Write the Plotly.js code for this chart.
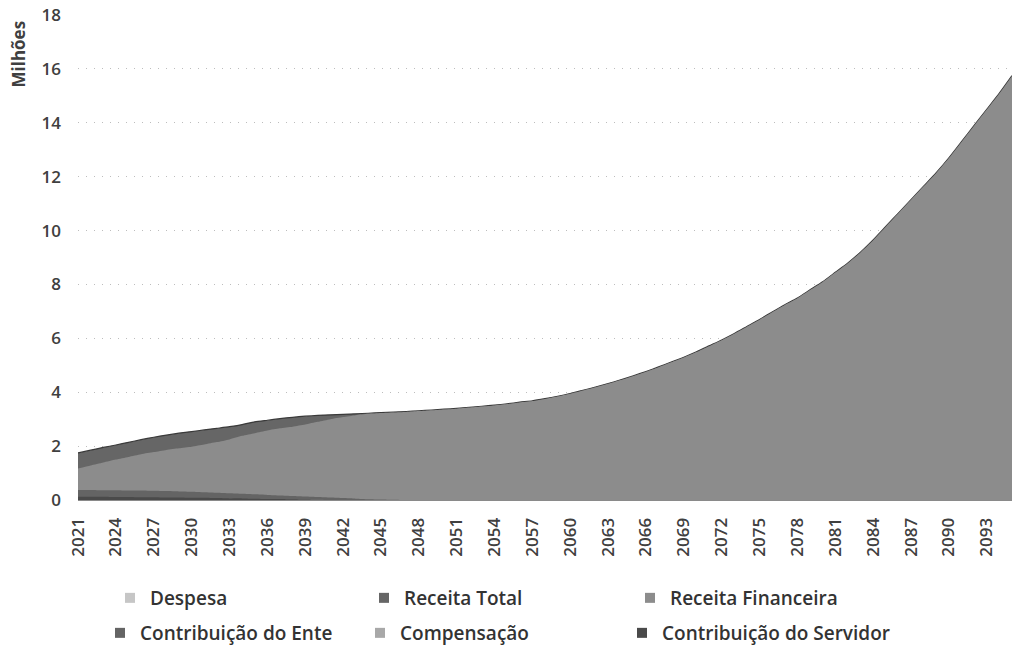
<!DOCTYPE html>
<html>
<head>
<meta charset="utf-8">
<script src="https://cdn.plot.ly/plotly-3.0.1.min.js"></script>
<style>html,body{margin:0;padding:0;background:#fff;}#chart{width:1012px;height:650px;}</style>
</head>
<body>
<div id="chart"></div>
<script>
// Years (categories)
var years = [];
for (var yr = 2021; yr <= 2095; yr++) years.push(yr);

// Series values (millions)
var receitaTotal = [
  1.75, 1.85, 1.95, 2.04, 2.14, 2.24, 2.33, 2.41, 2.48, 2.54,
  2.60, 2.66, 2.72, 2.80, 2.90, 2.96, 3.02, 3.07, 3.11, 3.14,
  3.16, 3.18, 3.20, 3.22, 3.24, 3.26, 3.28, 3.31, 3.34, 3.37,
  3.40, 3.44, 3.48, 3.52, 3.57, 3.63, 3.68, 3.76, 3.85, 3.95,
  4.07, 4.19, 4.32, 4.46, 4.61, 4.77, 4.94, 5.12, 5.30, 5.50,
  5.72, 5.94, 6.18, 6.44, 6.70, 6.98, 7.25, 7.50, 7.80, 8.10,
  8.45, 8.80, 9.20, 9.65, 10.15, 10.65, 11.15, 11.65, 12.15, 12.70,
  13.30, 13.90, 14.50, 15.10, 15.75
];
var receitaFinanceira = [
  1.17, 1.28, 1.39, 1.50, 1.60, 1.70, 1.78, 1.86, 1.92, 1.98,
  2.06, 2.15, 2.25, 2.38, 2.48, 2.58, 2.66, 2.72, 2.80, 2.90,
  3.00, 3.08, 3.15, 3.20, 3.23, 3.25, 3.27, 3.30, 3.33, 3.36,
  3.39, 3.43, 3.47, 3.51, 3.56, 3.62, 3.67, 3.75, 3.84, 3.94,
  4.06, 4.18, 4.31, 4.45, 4.60, 4.76, 4.93, 5.11, 5.29, 5.49,
  5.71, 5.93, 6.17, 6.43, 6.69, 6.97, 7.24, 7.49, 7.79, 8.09,
  8.44, 8.79, 9.19, 9.64, 10.14, 10.64, 11.14, 11.64, 12.14, 12.69,
  13.29, 13.89, 14.49, 15.09, 15.74
];
var contribEnte = [
  0.37, 0.37, 0.36, 0.36, 0.35, 0.35, 0.34, 0.33, 0.32, 0.31,
  0.29, 0.27, 0.25, 0.23, 0.21, 0.19, 0.17, 0.15, 0.13, 0.11,
  0.09, 0.07, 0.05, 0.03, 0.02, 0.01, 0, 0, 0, 0,
  0, 0, 0, 0, 0, 0, 0, 0, 0, 0,
  0, 0, 0, 0, 0, 0, 0, 0, 0, 0,
  0, 0, 0, 0, 0, 0, 0, 0, 0, 0,
  0, 0, 0, 0, 0, 0, 0, 0, 0, 0,
  0, 0, 0, 0, 0
];
var compensacao = [
  0.05, 0.05, 0.05, 0.05, 0.04, 0.04, 0.04, 0.04, 0.03, 0.03,
  0.03, 0.03, 0.02, 0.02, 0.02, 0.02, 0.01, 0.01, 0.01, 0.01,
  0, 0, 0, 0, 0, 0, 0, 0, 0, 0,
  0, 0, 0, 0, 0, 0, 0, 0, 0, 0,
  0, 0, 0, 0, 0, 0, 0, 0, 0, 0,
  0, 0, 0, 0, 0, 0, 0, 0, 0, 0,
  0, 0, 0, 0, 0, 0, 0, 0, 0, 0,
  0, 0, 0, 0, 0
];
var contribServidor = [
  0.12, 0.12, 0.12, 0.11, 0.11, 0.10, 0.10, 0.09, 0.09, 0.08,
  0.08, 0.07, 0.06, 0.06, 0.05, 0.04, 0.04, 0.03, 0.02, 0.01,
  0, 0, 0, 0, 0, 0, 0, 0, 0, 0,
  0, 0, 0, 0, 0, 0, 0, 0, 0, 0,
  0, 0, 0, 0, 0, 0, 0, 0, 0, 0,
  0, 0, 0, 0, 0, 0, 0, 0, 0, 0,
  0, 0, 0, 0, 0, 0, 0, 0, 0, 0,
  0, 0, 0, 0, 0
];

var seriesNames = ["Despesa", "Receita Total", "Receita Financeira",
                   "Contribuição do Ente", "Compensação", "Contribuição do Servidor"];
var seriesColors = ["#c6c6c6", "#666666", "#8c8c8c", "#646464", "#a8a8a8", "#4a4a4a"];

var tickYears = [];
for (var t = 2021; t <= 2093; t += 3) tickYears.push(t);

var FONT = "Open Sans, Noto Sans, sans-serif";

function area(y, idx, lineColor, lineWidth) {
  return {
    x: years, y: y, type: "scatter", mode: lineWidth > 0 ? "lines" : "none",
    fill: "tozeroy", fillcolor: seriesColors[idx],
    line: {color: lineColor, width: lineWidth, shape: "spline", smoothing: 0.6},
    name: seriesNames[idx], showlegend: false, hoverinfo: "x+y+name"
  };
}
var legendIds = ["legend", "legend2", "legend3", "legend4", "legend5", "legend6"];
function legendItem(idx) {
  return {
    x: [null], y: [null], type: "scatter", mode: "markers",
    marker: {symbol: "square", size: 10, color: seriesColors[idx]},
    name: seriesNames[idx], showlegend: true, legend: legendIds[idx]
  };
}

var traces = [
  area(receitaTotal, 1, "#3a3a3a", 1.2),
  area(receitaFinanceira, 2, "#8c8c8c", 0),
  area(contribEnte, 3, "#646464", 0),
  area(compensacao, 4, "#a8a8a8", 0),
  area(contribServidor, 5, "#4a4a4a", 0)
];
for (var i = 0; i < 6; i++) traces.push(legendItem(i));

var legendFont = {family: FONT, size: 19, color: "#333333", weight: 600};
// legend positions in pixels (text start x, row centre y)
var legendTextX = [150, 404, 670, 140, 400, 662];
var legendRowY = [598, 598, 598, 633, 633, 633];

var layout = {
  width: 1012, height: 650,
  margin: {l: 78, r: 0, t: 15, b: 150},
  paper_bgcolor: "#ffffff", plot_bgcolor: "#ffffff",
  font: {family: FONT, color: "#404040"},
  xaxis: {
    type: "linear", range: [2021, 2095],
    tickmode: "array", tickvals: tickYears, ticktext: tickYears.map(String),
    tickangle: -90, showgrid: false, zeroline: false,
    showline: true, linecolor: "#8a8a8a", linewidth: 1,
    ticks: "", ticklabelstandoff: 10,
    tickfont: {family: FONT, size: 17, color: "#404040", weight: 600}
  },
  yaxis: {
    range: [0, 18], tickmode: "array", tickvals: [0, 2, 4, 6, 8, 10, 12, 14, 16, 18],
    showgrid: true, gridcolor: "#bdbdbd", griddash: "1px,7px", gridwidth: 1,
    zeroline: false, showline: false, ticks: "", ticklabelstandoff: 16,
    tickfont: {family: FONT, size: 17, color: "#404040", weight: 600}
  },
  annotations: [{
    text: "Milhões", textangle: -90, xref: "paper", yref: "paper",
    x: 0, xshift: -60, y: 1, yanchor: "top", xanchor: "center", yshift: -4,
    showarrow: false, font: {family: FONT, size: 17, color: "#404040", weight: 700}
  }],
  showlegend: true
};
for (var j = 0; j < 6; j++) {
  layout[legendIds[j]] = {
    orientation: "h", xref: "container", yref: "container",
    x: (legendTextX[j] - 40) / 1012, y: 1 - legendRowY[j] / 650,
    xanchor: "left", yanchor: "middle",
    font: legendFont, bgcolor: "rgba(0,0,0,0)", borderwidth: 0
  };
}

Plotly.newPlot("chart", traces, layout, {displayModeBar: false, staticPlot: true});
</script>
</body>
</html>
